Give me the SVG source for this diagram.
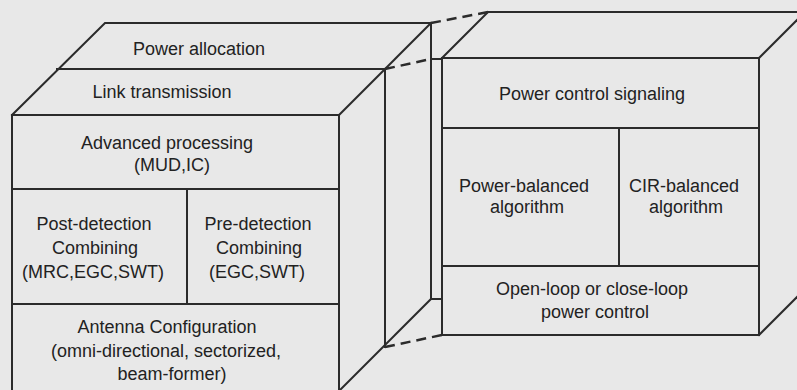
<svg xmlns="http://www.w3.org/2000/svg" width="797" height="390" viewBox="0 0 797 390">
<style>
.bg{fill:#e8e8e8}
.ln{fill:none;stroke:#2b2b2b;stroke-width:2;stroke-linecap:square}
.dash{fill:none;stroke:#2b2b2b;stroke-width:2.5;stroke-dasharray:10 6}
text{font-family:"Liberation Sans",Arial,sans-serif;fill:#222;text-anchor:middle;font-size:18px}
</style>
<rect class="bg" x="0" y="0" width="797" height="390"/>
<g id="left-cube-frame">
<path class="ln" d="M12,395 V115 H339 V395"/>
<path class="ln" d="M12,115 L105,23 H431 V299"/>
<path class="ln" d="M57,69 H385 V347"/>
<path class="ln" d="M431,23 L339,115"/>
<path class="ln" d="M431,299 L336,394"/>
<path class="ln" d="M12,189 H339 M12,304 H339 M187,189 V304"/>
</g>
<g id="right-cube-frame">
<path class="ln" d="M431,59 H442 M431,299 H442"/>
<path class="ln" d="M442,58 H759 V335 H442 Z"/>
<path class="ln" d="M442,58 L488,12 H800"/>
<path class="ln" d="M759,58 L805,12"/>
<path class="ln" d="M759,335 L805,289"/>
<path class="ln" d="M442,128 H759 M442,266 H759 M619,128 V266"/>
</g>
<g id="connectors">
<path class="dash" d="M431,23 L488,12"/>
<path class="dash" d="M385,69 L431,59"/>
<path class="dash" d="M385,347 L442,335"/>
</g>
<g id="power-allocation"><text x="199" y="55">Power allocation</text></g>
<g id="link-transmission"><text x="162" y="98">Link transmission</text></g>
<g id="advanced-processing"><text x="167" y="149">Advanced processing</text><text x="172" y="171">(MUD,IC)</text></g>
<g id="post-detection"><text x="94" y="230">Post-detection</text><text x="95" y="254">Combining</text><text x="93" y="278">(MRC,EGC,SWT)</text></g>
<g id="pre-detection"><text x="258" y="230">Pre-detection</text><text x="259" y="254">Combining</text><text x="257" y="278">(EGC,SWT)</text></g>
<g id="antenna-configuration"><text x="167" y="333">Antenna Configuration</text><text x="166" y="357">(omni-directional, sectorized,</text><text x="172" y="380">beam-former)</text></g>
<g id="power-control-signaling"><text x="592" y="100">Power control signaling</text></g>
<g id="power-balanced"><text x="524" y="192">Power-balanced</text><text x="527" y="213">algorithm</text></g>
<g id="cir-balanced"><text x="684" y="192">CIR-balanced</text><text x="686" y="213">algorithm</text></g>
<g id="power-control-loop"><text x="592" y="295">Open-loop or close-loop</text><text x="595" y="318">power control</text></g>
</svg>
